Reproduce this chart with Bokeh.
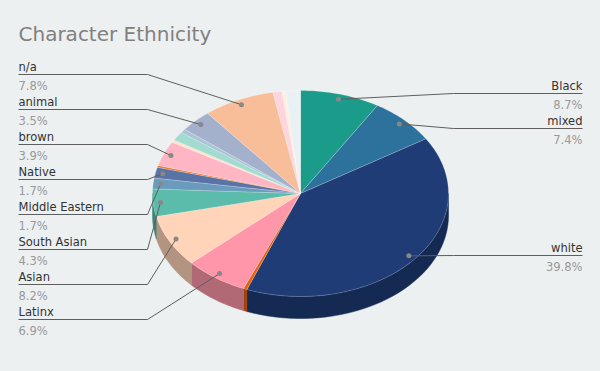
import numpy as np
from bokeh.plotting import figure
from bokeh.models import Range1d
from bokeh.embed import file_html
from bokeh.resources import INLINE
from bokeh.core.properties import value

# ---------------- data ----------------
names = ["Black", "mixed", "white", "other 1", "Latinx", "Asian", "South Asian",
         "Middle Eastern", "Native", "other 2", "brown", "other 3", "other 4",
         "other 5", "animal", "n/a", "other 6", "other 7", "other 8"]
values = [8.7, 7.4, 39.8, 0.4, 6.9, 8.2, 4.3,
          1.7, 1.7, 0.3, 3.9, 0.4, 1.4,
          0.6, 3.5, 7.8, 1.0, 0.4, 1.6]
colors = ["#1b9b8a", "#2c729d", "#1f3c77", "#e8600c", "#ff96a9", "#ffd4b8", "#5bbcab",
          "#6a9bbd", "#5a73a7", "#f07828", "#ffb6c4", "#ffe2cc", "#a2dcd0",
          "#a9c5d6", "#a4b1cc", "#f8be9a", "#ffd5dd", "#fff0e2", "#e9f1f5"]
left_labels = ["n/a", "animal", "brown", "Native", "Middle Eastern", "South Asian", "Asian", "Latinx"]
right_labels = ["Black", "mixed", "white"]
title_text = "Character Ethnicity"

# ---------------- layout ----------------
BG = "#edf0f1"
CX, CY, RX, RY, DEPTH = 300, 193, 148, 103, 22
LABEL_FONT = value("DejaVu Sans Condensed")
LABEL_SIZE = "12.8px"

p = figure(width=584, height=355, x_range=Range1d(0, 584), y_range=Range1d(355, 0),
           output_backend="svg", toolbar_location=None, min_border=0)
p.axis.visible = False
p.grid.visible = False
p.outline_line_color = None
p.background_fill_color = BG
p.border_fill_color = BG

vals = np.array(values, dtype=float)
cum = np.concatenate([[0.0], np.cumsum(vals / vals.sum())]) * 2 * np.pi


def ex(theta, r=1.0):
    return CX + RX * r * np.sin(theta)


def ey(theta, r=1.0, dz=0.0):
    return CY - RY * r * np.cos(theta) + dz


def darker(hexc, f=0.7):
    h = hexc.lstrip("#")
    r, g, b = (int(h[i:i + 2], 16) for i in (0, 2, 4))
    return "#%02x%02x%02x" % (int(r * f), int(g * f), int(b * f))


# side faces (front half only)
sx, sy, sc = [], [], []
for i in range(len(vals)):
    a = max(cum[i], np.pi / 2)
    b = min(cum[i + 1], 3 * np.pi / 2)
    if a < b:
        t = np.linspace(a, b, 40)
        xs = np.concatenate([ex(t), ex(t[::-1])])
        ys = np.concatenate([ey(t), ey(t[::-1], dz=DEPTH)])
        sx.append(list(xs)); sy.append(list(ys)); sc.append(darker(colors[i]))
p.patches(sx, sy, fill_color=sc, line_color=sc, line_width=0.5)

# top faces
tx, ty = [], []
for i in range(len(vals)):
    n = max(3, int((cum[i + 1] - cum[i]) / (2 * np.pi) * 400))
    t = np.linspace(cum[i], cum[i + 1], n)
    tx.append([CX] + list(ex(t)))
    ty.append([CY] + list(ey(t)))
p.patches(tx, ty, fill_color=colors, line_color="white", line_alpha=0.35, line_width=0.6)

# labels
pct = {n: v for n, v in zip(names, values)}
mid = {n: (cum[i] + cum[i + 1]) / 2 for i, n in enumerate(names)}

lx, ly, dots_x, dots_y = [], [], [], []
name_y, name_t, pct_y, pct_t = [], [], [], []
for k, n in enumerate(left_labels):
    yl = 74 + 35 * k
    dx, dy = ex(mid[n], 0.95), ey(mid[n], 0.95)
    lx.append([18, 147, dx]); ly.append([yl, yl, dy])
    dots_x.append(dx); dots_y.append(dy)
    name_y.append(yl - 8.5); name_t.append(n)
    pct_y.append(yl + 11); pct_t.append(f"{pct[n]}%")
p.text(x=[18] * len(name_t), y=name_y, text=name_t, text_font=LABEL_FONT,
       text_font_size=LABEL_SIZE, text_color="#333333", text_baseline="middle", text_align="left")
p.text(x=[18] * len(pct_t), y=pct_y, text=pct_t, text_font=LABEL_FONT,
       text_font_size=LABEL_SIZE, text_color="#999999", text_baseline="middle", text_align="left")

r_line_y = [93, 128, 255]
rn_y, rn_t, rp_y, rp_t = [], [], [], []
for n, yl in zip(right_labels, r_line_y):
    dx, dy = ex(mid[n], 0.95), ey(mid[n], 0.95)
    lx.append([582, 453, dx]); ly.append([yl, yl, dy])
    dots_x.append(dx); dots_y.append(dy)
    rn_y.append(yl - 8.5); rn_t.append(n)
    rp_y.append(yl + 11); rp_t.append(f"{pct[n]}%")
p.text(x=[582] * len(rn_t), y=rn_y, text=rn_t, text_font=LABEL_FONT,
       text_font_size=LABEL_SIZE, text_color="#333333", text_baseline="middle", text_align="right")
p.text(x=[582] * len(rp_t), y=rp_y, text=rp_t, text_font=LABEL_FONT,
       text_font_size=LABEL_SIZE, text_color="#999999", text_baseline="middle", text_align="right")

p.multi_line(lx, ly, line_color="#5e5e5e", line_width=1)
p.scatter(dots_x, dots_y, size=5, fill_color="#888888", line_color=None)

p.text(x=[18], y=[33], text=[title_text], text_font=value("DejaVu Sans"),
       text_font_size="20px", text_color="#808080", text_baseline="middle", text_align="left")

html = file_html(p, INLINE)
html = html.replace("</head>", "<style>body{background:%s;}</style></head>" % BG, 1)
open("out.html", "w").write(html)
